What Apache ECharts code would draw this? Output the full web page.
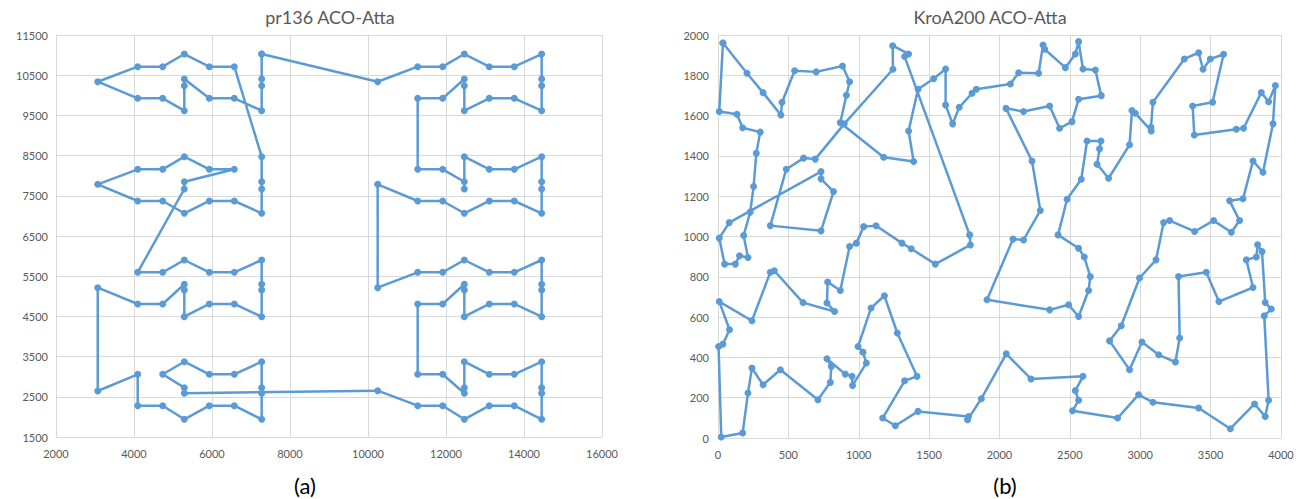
<!DOCTYPE html>
<html><head><meta charset="utf-8">
<script src="https://cdn.jsdelivr.net/npm/echarts@6/dist/echarts.min.js"></script>
<style>html,body{margin:0;padding:0;background:#fff}#c{width:1306px;height:499px}</style>
</head><body><div id="c"></div>
<script>
// ---- Data: pr136 tour (ACO-Atta) ----
const prX = [7274,10248,11274,11915,12470,13110,13751,14453,14453,14453,14453,13751,13110,12470,12470,12470,11915,11274,11274,11915,12470,12470,12470,13110,13751,14453,14453,14453,14453,13751,13110,12470,11915,11274,10248,10248,11274,11915,12470,13110,13751,14453,14453,14453,14453,13751,13110,12470,12470,12470,11915,11274,11274,11915,12470,12470,12470,13110,13751,14453,14453,14453,14453,13751,13110,12470,11915,11274,10248,5290,5290,4736,5290,5931,6572,7274,7274,7274,7274,6572,5931,5290,4736,4095,4095,3070,3070,4095,4736,5290,5290,5290,5931,6572,7274,7274,7274,7274,6572,5931,5290,4736,4095,5290,5290,6572,5931,5290,4736,4095,3070,4095,4736,5290,5931,6572,7274,7274,7274,7274,6572,5931,5290,4736,4095,3070,4095,4736,5290,5290,5290,5931,6572,7274,7274,7274];
const prY = [11027,10338,10712,10712,11027,10712,10712,11027,10405,10239,9617,9925,9925,9617,10239,10405,9925,9925,8159,8159,7850,7669,8473,8159,8159,8473,7850,7669,7065,7371,7371,7065,7371,7371,7786,5214,5597,5597,5903,5597,5597,5903,5299,5157,4493,4809,4809,4493,5157,5299,4809,4809,3060,3060,2587,2727,3373,3060,3060,3373,2727,2587,1940,2279,2279,1940,2279,2279,2652,2587,2727,3060,3373,3060,3060,3373,2727,2587,1940,2279,2279,1940,2279,2279,3060,2644,5214,4809,4809,5299,5157,4493,4809,4809,4493,5157,5299,5903,5597,5597,5903,5597,5597,7669,7850,8159,8159,8473,8159,8159,7786,7371,7371,7065,7371,7371,7065,7669,7850,8473,10712,10712,11027,10712,10712,10338,9925,9925,9617,10239,10405,9925,9925,9617,10239,10405];

// ---- Data: KroA200 tour (ACO-Atta) ----
const kroX = [35,9,135,175,300,272,253,229,182,213,153,123,47,9,80,732,732,821,732,372,485,608,691,897,1243,1241,1354,1326,1788,1793,1544,1373,1307,1123,1035,983,935,869,779,774,828,604,400,372,241,9,82,35,4,23,175,213,241,320,443,710,798,805,774,904,952,956,1054,1030,995,1087,1182,1274,1414,1326,1170,1260,1421,1780,1773,1871,2048,2224,2593,2539,2562,2519,2839,2988,3090,3415,3640,3812,3888,3912,3881,3931,3888,3865,3834,3825,3754,3801,3559,3469,3272,3280,3250,3131,3012,2924,2782,2865,2995,3112,3166,3209,3386,3521,3647,3706,3635,3730,3801,3872,3943,3960,3912,3860,3734,3682,3384,3372,3514,3592,3498,3446,3415,3313,3090,3076,3078,2965,2941,2924,2775,2693,2711,2721,2622,2581,2480,2416,2562,2602,2645,2633,2562,2491,2356,1911,2096,2171,2290,2231,2046,2171,2356,2427,2515,2562,2723,2681,2593,2562,2539,2468,2321,2309,2278,2136,2077,1835,1805,1714,1667,1617,1617,1532,1421,1354,1390,1177,869,912,935,885,698,544,455,447,320,206];
const kroY = [1960,1620,1607,1540,1518,1413,1248,1121,1005,896,904,863,863,992,1069,1322,1286,1223,1028,1054,1334,1389,1384,1559,1830,1947,1906,1893,1008,958,863,939,967,1053,1049,967,950,732,774,670,628,672,830,823,582,677,537,466,454,5,25,223,347,264,339,190,276,355,393,317,306,261,372,426,454,645,706,521,306,284,99,61,132,107,91,195,418,293,306,235,187,135,99,215,177,149,46,169,107,187,606,640,672,925,959,898,884,747,677,823,801,496,377,413,476,339,482,557,794,884,1069,1079,1025,1079,1021,1079,1177,1187,1375,1319,1559,1749,1669,1714,1537,1532,1504,1648,1666,1904,1881,1830,1912,1881,1666,1542,1524,1612,1625,1455,1289,1359,1435,1474,1474,1284,1185,1008,942,898,801,732,603,661,636,686,987,983,1129,1375,1636,1620,1648,1537,1570,1681,1699,1826,1831,1967,1906,1838,1929,1950,1810,1813,1757,1731,1711,1641,1559,1653,1831,1783,1731,1524,1372,1393,1565,1701,1768,1846,1817,1823,1666,1603,1714,1810];

// ---- Tick labels ----
const prXTicks = [2000,4000,6000,8000,10000,12000,14000,16000];
const prYTicks = [1500,2500,3500,4500,5500,6500,7500,8500,9500,10500,11500];
const kroXTicks = [0,500,1000,1500,2000,2500,3000,3500,4000];
const kroYTicks = [0,200,400,600,800,1000,1200,1400,1600,1800,2000];

const titles = ['pr136 ACO-Atta', 'KroA200 ACO-Atta'];
const captions = ['(a)', '(b)'];

function closedTour(xs, ys) {
  const pts = xs.map((x, i) => [x, ys[i]]);
  pts.push(pts[0]);
  return pts;
}

const FONT = 'Lato, "Open Sans", sans-serif';
const GRID = '#d9d9d9';
const LABEL = { color: '#595959', fontSize: 11, fontFamily: FONT };
const BLUE = '#5b9bd5';

function xAxis(ticks, gridIndex) {
  return {
    type: 'value', gridIndex,
    min: ticks[0], max: ticks[ticks.length - 1], interval: ticks[1] - ticks[0],
    axisLine: { show: true, lineStyle: { color: GRID } },
    axisTick: { show: false },
    splitLine: { show: true, showMinLine: true, showMaxLine: true, lineStyle: { color: GRID, width: 1 } },
    axisLabel: Object.assign({ margin: 11, formatter: v => String(v) }, LABEL)
  };
}
function yAxisHalfStep(ticks, gridIndex) {
  // ticks offset from zero: draw every half-step, show only the listed ones
  const step = (ticks[1] - ticks[0]) / 2;
  return {
    type: 'value', gridIndex,
    min: ticks[0], max: ticks[ticks.length - 1], interval: step,
    axisLine: { show: true, lineStyle: { color: GRID } },
    axisTick: { show: false },
    splitLine: { show: true, showMinLine: true, showMaxLine: true, lineStyle: { color: [GRID, 'rgba(0,0,0,0)'], width: 1 } },
    axisLabel: Object.assign({ margin: 8, formatter: v => ticks.indexOf(v) >= 0 ? String(v) : '' }, LABEL)
  };
}
function yAxis(ticks, gridIndex) {
  return {
    type: 'value', gridIndex,
    min: ticks[0], max: ticks[ticks.length - 1], interval: ticks[1] - ticks[0],
    axisLine: { show: true, lineStyle: { color: GRID } },
    axisTick: { show: false },
    splitLine: { show: true, showMinLine: true, showMaxLine: true, lineStyle: { color: GRID, width: 1 } },
    axisLabel: Object.assign({ margin: 9, formatter: v => String(v) }, LABEL)
  };
}
function tourSeries(xs, ys, idx) {
  return {
    type: 'line', xAxisIndex: idx, yAxisIndex: idx,
    data: closedTour(xs, ys),
    symbol: 'circle', symbolSize: 7, showSymbol: true,
    lineStyle: { color: BLUE, width: 2.5 },
    itemStyle: { color: BLUE },
    animation: false, silent: true
  };
}

const chart = echarts.init(document.getElementById('c'), null, { renderer: 'svg' });
chart.setOption({
  animation: false,
  backgroundColor: '#fff',
  grid: [
    { left: 56, right: 704, top: 35, bottom: 62 },
    { left: 718, right: 25, top: 35, bottom: 61 }
  ],
  xAxis: [xAxis(prXTicks, 0), xAxis(kroXTicks, 1)],
  yAxis: [yAxisHalfStep(prYTicks, 0), yAxis(kroYTicks, 1)],
  series: [tourSeries(prX, prY, 0), tourSeries(kroX, kroY, 1)],
  graphic: [
    { type: 'text', x: 330, y: 17, style: { text: titles[0], fill: '#595959', fontSize: 18, fontFamily: FONT, textAlign: 'center', textVerticalAlign: 'middle' } },
    { type: 'text', x: 990, y: 17, style: { text: titles[1], fill: '#595959', fontSize: 18, fontFamily: FONT, textAlign: 'center', textVerticalAlign: 'middle' } },
    { type: 'text', x: 305, y: 485, style: { text: captions[0], fill: '#000', fontSize: 22, fontFamily: FONT, textAlign: 'center', textVerticalAlign: 'middle' } },
    { type: 'text', x: 1005, y: 485, style: { text: captions[1], fill: '#000', fontSize: 22, fontFamily: FONT, textAlign: 'center', textVerticalAlign: 'middle' } }
  ]
});
</script></body></html>
